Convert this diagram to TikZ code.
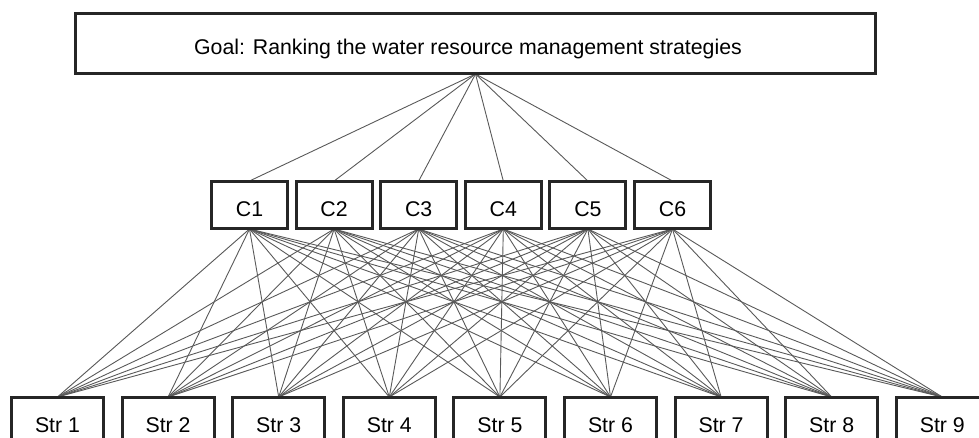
\documentclass[tikz,border=0pt]{standalone}
\usepackage{fontspec}
\setmainfont{Liberation Sans}
\begin{document}
\begin{tikzpicture}[x=1pt,y=-1pt,
  box/.style={draw=black!85,line width=2pt,fill=white,inner sep=0pt,rectangle},
  frame/.style={draw=black!85,line width=2pt},
  lbl/.style={anchor=base,inner sep=0pt,font=\fontsize{21.3}{25}\selectfont},
  link/.style={draw=black!65,line width=0.9pt}]
\useasboundingbox (0,0) rectangle (979,438);
\clip (0,0) rectangle (979,438);
% goal
\node[box,minimum width=799pt,minimum height=59pt] (goal) at (475.5,43.5) {};
% criteria
\foreach \i in {1,...,6}{
  \node[box,minimum width=75pt,minimum height=46pt] (c\i) at ({249.5+84.6*(\i-1)},205) {};
}
% strategies
\foreach \j in {1,...,9}{
  \node[box,minimum width=91pt,minimum height=54pt] (s\j) at ({57.5+110.6*(\j-1)},425) {};
}
% connectors
\foreach \i in {1,...,6}{
  \draw[link] (goal.south) -- (c\i.north);
  \foreach \j in {1,...,9}{
    \draw[link] (c\i.south) -- (s\j.north);
  }
}
% redraw box frames on top of connector ends
\foreach \i in {1,...,6}{
  \draw[frame] (c\i.south west) rectangle (c\i.north east);
}
\foreach \j in {1,...,9}{
  \draw[frame] (s\j.south west) rectangle (s\j.north east);
}
\draw[frame] (goal.south west) rectangle (goal.north east);
% labels
\node[lbl] (goaltext) at (468,55) {Goal: Ranking the water resource management strategies};
\foreach \i in {1,...,6}{
  \node[lbl] (ct\i) at ({249.5+84.6*(\i-1)},216.7) {C\i};
}
\foreach \j in {1,...,9}{
  \node[lbl] (st\j) at ({57.5+110.6*(\j-1)},432.7) {Str \j};
}
\end{tikzpicture}
\end{document}
